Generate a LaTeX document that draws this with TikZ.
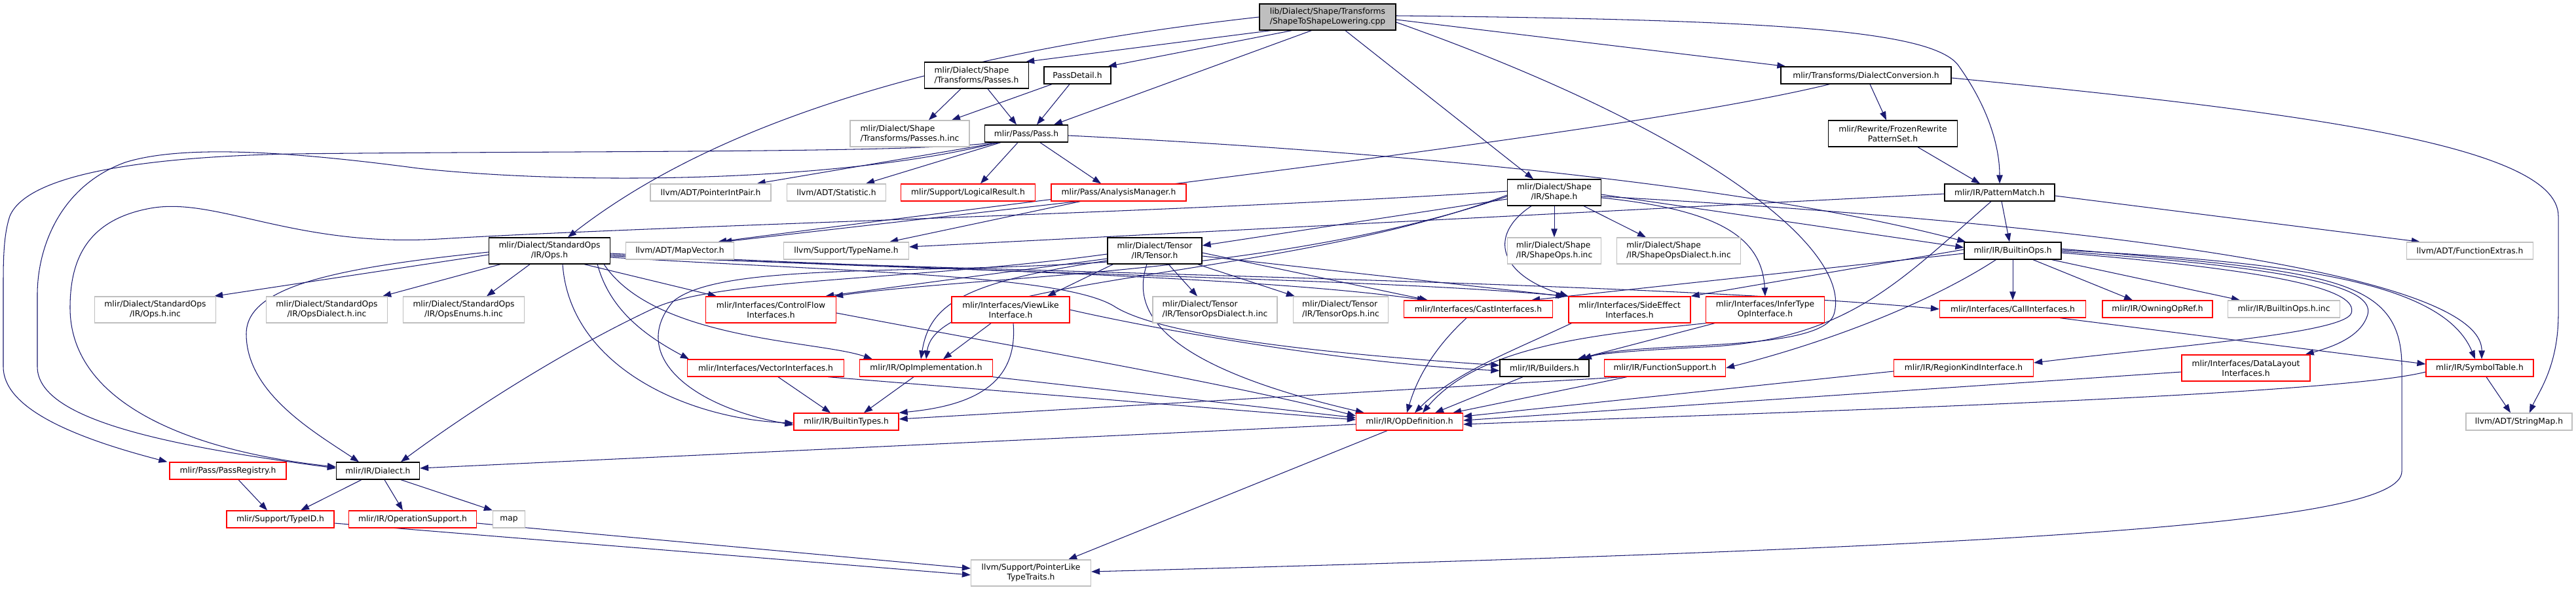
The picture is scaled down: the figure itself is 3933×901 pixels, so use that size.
\documentclass[tikz,border=0pt]{standalone}
\usepackage{fontspec}
\setmainfont{DejaVu Sans}
\usetikzlibrary{arrows.meta}
\definecolor{edgec}{HTML}{191970}
\definecolor{grayc}{HTML}{BFBFBF}
\definecolor{topfill}{HTML}{BFBFBF}
\definecolor{redc}{HTML}{FF0000}
\newcommand\nf{\fontsize{12.3pt}{15pt}\selectfont}
\pgfdeclarelayer{bg}
\pgfsetlayers{bg,main}
\tikzset{
  bx/.style={draw=black, line width=1.3pt, inner sep=0pt, font=\nf, align=center, fill=white},
  gx/.style={bx, draw=grayc},
  rx/.style={bx, draw=redc},
  sz/.style 2 args={minimum width=#1pt, minimum height=#2pt},
  ed/.style={draw=edgec, line width=1.05pt, -{Triangle[length=13pt,width=9.5pt]}},
}
\begin{document}
\begin{tikzpicture}[x=1pt,y=-1pt]
\begin{pgfonlayer}{bg}
\fill[white] (0,0) rectangle (3933,901);
\end{pgfonlayer}
\useasboundingbox (0,0) rectangle (3933,901);
% row 0-2
\node[bx, fill=topfill, sz={208}{40}, align=left] (top) at (2027,26) {lib/Dialect/Shape/Transforms\\/ShapeToShapeLowering.cpp};
\node[bx, sz={159}{40}, align=left] (passes) at (1491,115) {mlir/Dialect/Shape\\/Transforms/Passes.h};
\node[bx, sz={102}{26}] (passdetail) at (1645,115) {PassDetail.h};
\node[bx, sz={260}{26}] (dconv) at (2849,115) {mlir/Transforms/DialectConversion.h};
\node[gx, sz={182}{40}, align=left] (passesinc) at (1389,204) {mlir/Dialect/Shape\\/Transforms/Passes.h.inc};
\node[bx, sz={127}{26}] (pass) at (1567,204) {mlir/Pass/Pass.h};
\node[bx, sz={197}{40}] (frozen) at (2890,204) {mlir/Rewrite/FrozenRewrite\\PatternSet.h};
% row 3
\node[bx, sz={143}{40}] (shape) at (2373,294) {mlir/Dialect/Shape\\/IR/Shape.h};
\node[gx, sz={184}{26}] (pip) at (1085,294) {llvm/ADT/PointerIntPair.h};
\node[gx, sz={151}{26}] (stat) at (1277,294) {llvm/ADT/Statistic.h};
\node[rx, sz={205}{26}] (logres) at (1478,294) {mlir/Support/LogicalResult.h};
\node[rx, sz={206}{26}] (analysis) at (1708,294) {mlir/Pass/AnalysisManager.h};
\node[bx, sz={168}{26}] (pmatch) at (3053,294) {mlir/IR/PatternMatch.h};
% row 4
\node[bx, sz={185}{40}] (opsh) at (839,383) {mlir/Dialect/StandardOps\\/IR/Ops.h};
\node[gx, sz={165}{26}] (mapvec) at (1038,383) {llvm/ADT/MapVector.h};
\node[gx, sz={191}{26}] (typename) at (1292,383) {llvm/Support/TypeName.h};
\node[bx, sz={144}{40}] (tensor) at (1763,383) {mlir/Dialect/Tensor\\/IR/Tensor.h};
\node[gx, sz={143}{40}, align=left] (shopsinc) at (2373,383) {mlir/Dialect/Shape\\/IR/ShapeOps.h.inc};
\node[gx, sz={189}{40}, align=left] (shdialinc) at (2563,383) {mlir/Dialect/Shape\\/IR/ShapeOpsDialect.h.inc};
\node[bx, sz={148}{26}] (builtinops) at (3073,383) {mlir/IR/BuiltinOps.h};
\node[gx, sz={193}{26}] (fextras) at (3771,383) {llvm/ADT/FunctionExtras.h};
% row 5
\node[gx, sz={185}{40}] (opsinc) at (237,473) {mlir/Dialect/StandardOps\\/IR/Ops.h.inc};
\node[gx, sz={185}{40}] (opsdialinc) at (499,473) {mlir/Dialect/StandardOps\\/IR/OpsDialect.h.inc};
\node[gx, sz={185}{40}] (opsenuminc) at (708,473) {mlir/Dialect/StandardOps\\/IR/OpsEnums.h.inc};
\node[rx, sz={199}{40}] (controlflow) at (1177,473) {mlir/Interfaces/ControlFlow\\Interfaces.h};
\node[rx, sz={180}{40}] (viewlike) at (1543,473) {mlir/Interfaces/ViewLike\\Interface.h};
\node[gx, sz={190}{40}, align=left] (tensdialinc) at (1855,473) {mlir/Dialect/Tensor\\/IR/TensorOpsDialect.h.inc};
\node[gx, sz={145}{40}, align=left] (tensopsinc) at (2047,473) {mlir/Dialect/Tensor\\/IR/TensorOps.h.inc};
\node[rx, sz={227}{26}] (cast) at (2257,472) {mlir/Interfaces/CastInterfaces.h};
\node[rx, sz={186}{40}] (sideeff) at (2488,473) {mlir/Interfaces/SideEffect\\Interfaces.h};
\node[rx, sz={181}{40}] (infer) at (2695,473) {mlir/Interfaces/InferType\\OpInterface.h};
\node[rx, sz={223}{26}] (call) at (3073,472) {mlir/Interfaces/CallInterfaces.h};
\node[rx, sz={168}{26}] (owning) at (3294,472) {mlir/IR/OwningOpRef.h};
\node[gx, sz={171}{26}] (biopsinc) at (3487,472) {mlir/IR/BuiltinOps.h.inc};
% row 6
\node[rx, sz={239}{26}] (vecint) at (1169,562) {mlir/Interfaces/VectorInterfaces.h};
\node[rx, sz={203}{26}] (opimpl) at (1414,562) {mlir/IR/OpImplementation.h};
\node[bx, sz={136}{26}] (builders) at (2358,562) {mlir/IR/Builders.h};
\node[rx, sz={185}{26}] (funcsup) at (2542,562) {mlir/IR/FunctionSupport.h};
\node[rx, sz={213}{26}] (regionkind) at (2998,562) {mlir/IR/RegionKindInterface.h};
\node[rx, sz={196}{40}] (datalayout) at (3429,562) {mlir/Interfaces/DataLayout\\Interfaces.h};
\node[rx, sz={164}{26}] (symtab) at (3786,562) {mlir/IR/SymbolTable.h};
% row 7-10
\node[rx, sz={160}{26}] (btypes) at (1292,644) {mlir/IR/BuiltinTypes.h};
\node[rx, sz={163}{26}] (opdef) at (2152,644) {mlir/IR/OpDefinition.h};
\node[gx, sz={162}{26}] (strmap) at (3846,644) {llvm/ADT/StringMap.h};
\node[rx, sz={178}{26}] (passreg) at (348,719) {mlir/Pass/PassRegistry.h};
\node[bx, sz={127}{26}] (dialect) at (577,719) {mlir/IR/Dialect.h};
\node[rx, sz={164}{26}] (typeid) at (428,793) {mlir/Support/TypeID.h};
\node[rx, sz={195}{26}] (opsupport) at (630,793) {mlir/IR/OperationSupport.h};
\node[gx, sz={49}{26}] (map) at (777,793) {map};
\node[gx, sz={183}{40}] (ptrlike) at (1574,875) {llvm/Support/PointerLike\\TypeTraits.h};

\begin{pgfonlayer}{bg}
% top node
\draw[ed] (top.west) .. controls (1350,90) and (1050,220) .. ([xshift=28]opsh.north);
\draw[ed] ([xshift=18]top.south west) -- ([xshift=-5]passes.north east);
\draw[ed] ([xshift=50]top.south west) -- ([xshift=-5]passdetail.north east);
\draw[ed] ([xshift=80]top.south west) -- ([xshift=42]pass.north);
\draw[ed] ([xshift=27]top.south) -- ([xshift=-32]shape.north);
\draw[ed] ([yshift=-8]top.east) .. controls (2600,200) and (2830,380) .. (2800,480) .. controls (2780,540) and (2500,520) .. ([xshift=-10]builders.north east);
\draw[ed] ([yshift=-4]top.east) -- ([xshift=8]dconv.north west);
\draw[ed] ([yshift=2]top.east) .. controls (2700,30) and (2950,45) .. (2990,100) .. controls (3040,170) and (3053,230) .. (pmatch.north);
% passes / passdetail
\draw[ed] ([xshift=-24]passes.south) -- ([xshift=29]passesinc.north);
\draw[ed] ([xshift=17]passes.south) -- ([xshift=-15]pass.north);
\draw[ed] ([xshift=-39]passdetail.south) -- ([xshift=64]passesinc.north);
\draw[ed] ([xshift=-12]passdetail.south) -- ([xshift=16]pass.north);
% pass
\draw[ed] ([xshift=23]pass.south west) -- ([xshift=-22]pip.north east);
\draw[ed] ([xshift=25]pass.south west) -- ([xshift=45]stat.north);
\draw[ed] ([xshift=-13]pass.south) -- ([xshift=19]logres.north);
\draw[ed] ([xshift=21]pass.south) -- ([xshift=-27]analysis.north);
\draw[ed] ([xshift=15]pass.south west) .. controls (1400,234) and (900,230) .. (446,235) .. controls (200,240) and (40,270) .. (15,330) .. controls (5,360) and (5,400) .. (5,440) -- (5,560) .. controls (5,620) and (100,665) .. ([xshift=-3]passreg.north west);
\draw[ed] ([xshift=20]pass.south west) .. controls (1300,275) and (900,285) .. (638,257) .. controls (450,232) and (280,220) .. (191,248) .. controls (90,285) and (57,380) .. (57,450) -- (57,560) .. controls (57,640) and (250,680) .. ([yshift=4]dialect.west);
\draw[ed] ([yshift=-3]pass.east) .. controls (2200,235) and (2700,290) .. ([xshift=3]builtinops.north west);
% analysis
\draw[ed] ([xshift=40]analysis.south west) -- ([xshift=-17]mapvec.north east);
\draw[ed] ([xshift=45]analysis.south west) -- ([xshift=-30]typename.north east);
% dialect conversion
\draw[ed] ([xshift=75]dconv.south west) .. controls (2500,200) and (1700,290) .. ([xshift=-25]mapvec.north east);
\draw[ed] ([xshift=6]dconv.south) -- ([xshift=-10]frozen.north);
\draw[ed] ([yshift=-4]dconv.east) .. controls (3500,170) and (3906,220) .. (3906,330) -- (3906,480) .. controls (3906,560) and (3875,600) .. ([xshift=16]strmap.north);
\draw[ed] ([xshift=38]frozen.south) -- ([xshift=-30]pmatch.north);
% pattern match
\draw[ed] ([xshift=3]pmatch.south) -- ([xshift=-5]builtinops.north);
\draw[ed] ([yshift=-5]pmatch.east) -- ([xshift=21]fextras.north west);
\draw[ed] ([yshift=-2]pmatch.west) -- ([yshift=6]typename.east);
\draw[ed] ([xshift=-13]pmatch.south) .. controls (2900,430) and (2820,520) .. (2600,530) .. controls (2500,535) and (2440,540) .. ([xshift=-10]builders.north east);
% shape
\draw[ed] (shape.south) -- (shopsinc.north);
\draw[ed] ([xshift=45]shape.south) -- ([xshift=-50]shdialinc.north);
\draw[ed] ([yshift=-10]shape.west) -- ([yshift=8]tensor.east);
\draw[ed] ([yshift=-6]shape.west) .. controls (1950,420) and (1500,420) .. ([xshift=-3]controlflow.north east);
\draw[ed] ([yshift=-4]shape.west) .. controls (1950,430) and (1430,420) .. (opimpl.north);
\draw[ed] ([yshift=2]shape.west) .. controls (1800,325) and (1000,345) .. (670,365) .. controls (450,378) and (330,300) .. (230,318) .. controls (130,336) and (107,400) .. (107,470) .. controls (107,620) and (300,690) .. ([yshift=6]dialect.west);
\draw[ed] ([yshift=-3]shape.east) -- ([yshift=5]builtinops.west);
\draw[ed] ([yshift=-6]shape.east) .. controls (3000,330) and (3790,400) .. ([xshift=3]symtab.north);
\draw[ed] ([xshift=-35]shape.south) .. controls (2270,360) and (2290,420) .. (sideeff.north west);
\draw[ed] ([yshift=-8]shape.east) .. controls (2620,320) and (2690,360) .. (infer.north);
% ops.h
\draw[ed] ([yshift=-6]opsh.west) -- ([xshift=-3]opsinc.north east);
\draw[ed] ([xshift=-75]opsh.south) -- ([xshift=-8]opsdialinc.north east);
\draw[ed] ([xshift=-30]opsh.south) -- ([xshift=35]opsenuminc.north);
\draw[ed] ([yshift=-2]opsh.west) .. controls (500,410) and (376,440) .. (376,510) .. controls (376,600) and (480,660) .. ([xshift=-29]dialect.north);
\draw[ed] ([xshift=-40]opsh.south east) -- ([xshift=-83]controlflow.north);
\draw[ed] ([xshift=-20]opsh.south east) .. controls (930,470) and (980,510) .. ([xshift=3]vecint.north west);
\draw[ed] ([xshift=-10]opsh.south east) .. controls (1000,520) and (1250,520) .. ([xshift=20]opimpl.north west);
\draw[ed] ([xshift=20]opsh.south) .. controls (870,560) and (1050,640) .. ([yshift=-2]btypes.west);
\draw[ed] ([yshift=-10]opsh.east) .. controls (1300,415) and (1620,420) .. (1700,467) .. controls (1780,520) and (2100,545) .. ([yshift=4]builders.west);
\draw[ed] ([yshift=-4]opsh.east) .. controls (1400,412) and (1900,420) .. ([xshift=34]cast.north west);
\draw[ed] ([yshift=-6]opsh.east) .. controls (1500,418) and (2100,425) .. ([xshift=-3]sideeff.north west);
\draw[ed] ([yshift=-8]opsh.east) .. controls (1600,418) and (2500,430) .. (call.west);
% tensor
\draw[ed] ([xshift=21]tensor.south) -- ([xshift=-27]tensdialinc.north);
\draw[ed] ([xshift=-7]tensor.south east) -- ([xshift=3]tensopsinc.north west);
\draw[ed] ([yshift=-3]tensor.east) -- ([xshift=37]cast.north west);
\draw[ed] ([yshift=-8]tensor.east) -- ([xshift=-6]sideeff.north west);
\draw[ed] ([xshift=9]tensor.south west) -- ([xshift=56]viewlike.north);
\draw[ed] ([yshift=-12]tensor.west) -- ([xshift=-17]controlflow.north east);
\draw[ed] ([yshift=-15]tensor.west) .. controls (1480,430) and (1420,460) .. ([xshift=-8]opimpl.north);
\draw[ed] ([yshift=-17]tensor.west) .. controls (1400,420) and (1100,400) .. (1028,460) .. controls (960,540) and (1050,620) .. ([yshift=-5]btypes.west);
\draw[ed] ([xshift=-12]tensor.south) .. controls (1725,480) and (1780,560) .. ([xshift=13]opdef.north west);
\draw[ed] ([yshift=-5]tensor.west) .. controls (1400,428) and (1100,425) .. (1000,470) .. controls (850,540) and (700,640) .. ([xshift=35]dialect.north);
% viewlike
\draw[ed] ([xshift=-30]viewlike.south) -- ([xshift=26]opimpl.north);
\draw[ed] ([xshift=4]viewlike.south) .. controls (1555,590) and (1480,620) .. (btypes.north east);
\draw[ed] (viewlike.east) .. controls (1750,500) and (2050,555) .. ([yshift=-4]builders.west);
% vector / opimpl / controlflow
\draw[ed] ([xshift=19]vecint.south) -- ([xshift=-24]btypes.north);
\draw[ed] ([xshift=-25]vecint.south east) -- ([yshift=3]opdef.west);
\draw[ed] ([xshift=-19]opimpl.south) -- ([xshift=27]btypes.north);
\draw[ed] (opimpl.south east) -- ([yshift=6]opdef.west);
\draw[ed] ([yshift=-5]controlflow.east) .. controls (1550,530) and (1850,580) .. ([yshift=9]opdef.west);
% interfaces to opdef
\draw[ed] ([xshift=-18]cast.south) .. controls (2180,540) and (2160,590) .. ([xshift=-4]opdef.north);
\draw[ed] ([xshift=5]sideeff.south west) .. controls (2300,540) and (2220,570) .. ([xshift=8]opdef.north);
\draw[ed] (infer.south west) .. controls (2450,510) and (2260,525) .. ([xshift=20]opdef.north);
\draw[ed] ([xshift=14]infer.south west) -- ([xshift=-18]builders.north east);
\draw[ed] ([xshift=-33]builders.south) -- ([xshift=39]opdef.north);
\draw[ed] ([xshift=35]funcsup.south west) -- ([xshift=-16]opdef.north east);
\draw[ed] ([xshift=30]funcsup.south west) -- ([yshift=4]btypes.east);
\draw[ed] ([yshift=-5]regionkind.west) -- ([yshift=8]opdef.east);
\draw[ed] ([yshift=-6]datalayout.west) -- ([yshift=2]opdef.east);
\draw[ed] ([yshift=-6]symtab.west) .. controls (3560,605) and (2700,630) .. ([yshift=-4]opdef.east);
\draw[ed] ([xshift=-40]call.south east) -- ([yshift=6]symtab.west);
\draw[ed] ([xshift=10]symtab.south) -- ([xshift=-13]strmap.north);
% builtin ops
\draw[ed] (builtinops.south) -- (call.north);
\draw[ed] ([xshift=31]builtinops.south) -- ([xshift=-38]owning.north);
\draw[ed] ([xshift=-15]builtinops.south east) -- ([xshift=19]biopsinc.north west);
\draw[ed] ([xshift=49]builtinops.south west) .. controls (2950,460) and (2800,520) .. (funcsup.east);
\draw[ed] ([yshift=-4]builtinops.west) -- ([xshift=-33]cast.north east);
\draw[ed] ([yshift=2]builtinops.west) -- (sideeff.north east);
\draw[ed] ([yshift=-3]builtinops.east) .. controls (3500,415) and (3600,445) .. (3590,478) .. controls (3580,510) and (3300,530) .. ([yshift=8]regionkind.east);
\draw[ed] ([yshift=-1]builtinops.east) .. controls (3520,410) and (3625,440) .. (3615,480) .. controls (3605,515) and (3560,530) .. ([xshift=-8]datalayout.north east);
\draw[ed] ([yshift=1]builtinops.east) .. controls (3500,400) and (3730,430) .. ([xshift=-7]symtab.north);
\draw[ed] ([yshift=3]builtinops.east) .. controls (3550,415) and (3667,420) .. (3667,560) -- (3667,720) .. controls (3667,800) and (3100,835) .. ([yshift=2]ptrlike.east);
% opdef and lower
\draw[ed] ([yshift=-4]opdef.west) -- ([yshift=4]dialect.east);
\draw[ed] ([xshift=-34]opdef.south) -- ([xshift=-35]ptrlike.north east);
\draw[ed] ([xshift=-25]dialect.south) -- ([xshift=31]typeid.north);
\draw[ed] ([xshift=10]dialect.south) -- ([xshift=-15]opsupport.north);
\draw[ed] ([xshift=35]dialect.south) -- (map.north west);
\draw[ed] ([xshift=16]passreg.south) -- ([xshift=-20]typeid.north);
\draw[ed] ([yshift=-6]typeid.east) -- ([yshift=-3]ptrlike.west);
\draw[ed] ([yshift=-6]opsupport.east) -- ([yshift=7]ptrlike.west);
\end{pgfonlayer}
\end{tikzpicture}
\end{document}
